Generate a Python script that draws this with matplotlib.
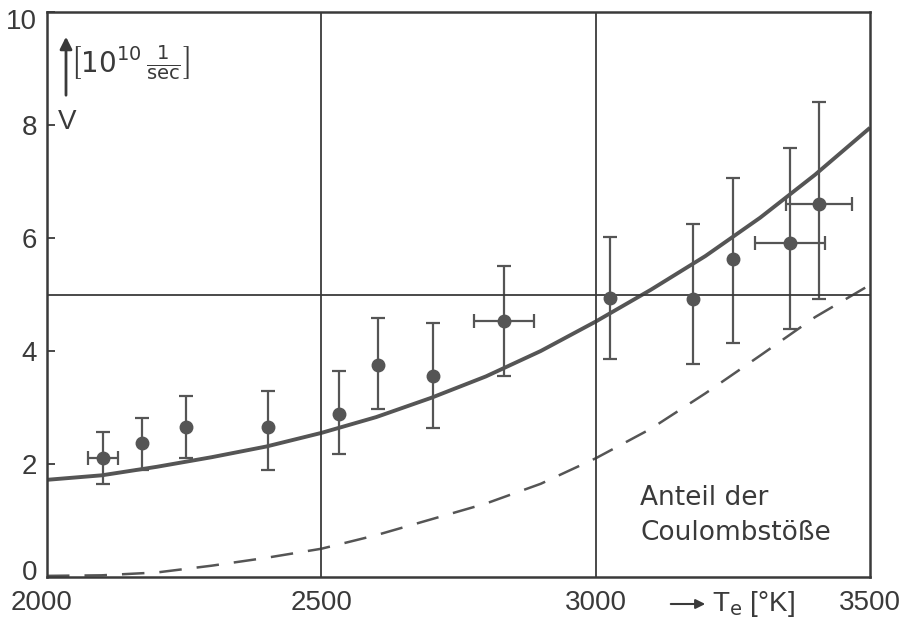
import matplotlib
matplotlib.use('Agg')
import matplotlib.pyplot as plt
from matplotlib.transforms import ScaledTranslation

# measured points (T_e in K, nu in 1e10 1/sec)
T = [2102, 2173, 2253, 2403, 2532, 2603, 2703, 2833, 3026, 3177, 3250, 3354, 3407]
nu = [2.11, 2.38, 2.65, 2.65, 2.88, 3.75, 3.55, 4.53, 4.94, 4.92, 5.63, 5.91, 6.61]
nu_top = [2.56, 2.82, 3.20, 3.29, 3.64, 4.58, 4.49, 5.51, 6.02, 6.25, 7.07, 7.60, 8.40]
nu_bot = [1.65, 1.90, 2.11, 1.90, 2.18, 2.97, 2.63, 3.55, 3.85, 3.77, 4.14, 4.39, 4.92]
T_err = [28, 0, 0, 0, 0, 0, 0, 54, 0, 0, 0, 64, 60]

# theory curves
T_curve = [2000, 2100, 2200, 2300, 2400, 2500, 2600, 2700, 2800, 2900, 3000, 3100, 3200, 3300, 3400, 3500]
nu_total = [1.72, 1.80, 1.95, 2.12, 2.31, 2.55, 2.83, 3.17, 3.55, 4.00, 4.52, 5.08, 5.68, 6.36, 7.12, 7.95]
nu_coulomb = [0.02, 0.03, 0.08, 0.20, 0.34, 0.50, 0.74, 1.02, 1.30, 1.65, 2.10, 2.62, 3.25, 3.92, 4.60, 5.17]

x_ticks = [2000, 2500, 3000, 3500]
y_ticks = [0, 2, 4, 6, 8, 10]

ink = '#3a3a3a'
grey = '#555555'

plt.rcParams['font.family'] = ['Liberation Sans', 'DejaVu Sans']
plt.rcParams['mathtext.fontset'] = 'dejavusans'

fig = plt.figure(figsize=(9.14, 6.25), dpi=100)
ax = fig.add_axes([0.0514, 0.0768, 0.9004, 0.904])

ax.plot(T_curve, nu_total, color=grey, lw=2.8, solid_capstyle='butt')
ax.plot(T_curve, nu_coulomb, color=grey, lw=1.8, dashes=(9, 6))

yerr = [[v - b for v, b in zip(nu, nu_bot)], [t - v for v, t in zip(nu, nu_top)]]
ax.errorbar(T, nu, yerr=yerr, fmt='o', color=grey, ms=9, elinewidth=1.6,
            capsize=5, capthick=1.6)
T_h = [t for t, e in zip(T, T_err) if e > 0]
nu_h = [v for v, e in zip(nu, T_err) if e > 0]
err_h = [e for e in T_err if e > 0]
ax.errorbar(T_h, nu_h, xerr=err_h, fmt='none', ecolor=grey, elinewidth=1.6,
            capsize=5, capthick=1.6)

ax.axvline(2500, color=ink, lw=1.3)
ax.axvline(3000, color=ink, lw=1.3)
ax.axhline(5, color=ink, lw=1.3)

ax.set_xlim(2000, 3500)
ax.set_ylim(0, 10)
ax.set_xticks(x_ticks)
ax.set_yticks(y_ticks)
ax.tick_params(axis='x', length=0, pad=9, labelsize=20, colors=ink)
ax.tick_params(axis='y', direction='in', length=6, width=1.3, pad=7,
               labelsize=20, colors=ink)
for s in ax.spines.values():
    s.set_color(ink)
    s.set_linewidth(1.8)

# nudge the corner labels like in the original
ylabels = ax.get_yticklabels()
ylabels[0].set_transform(ylabels[0].get_transform() + ScaledTranslation(0, 5 / 72, fig.dpi_scale_trans))
ylabels[-1].set_transform(ylabels[-1].get_transform() + ScaledTranslation(0, -5 / 72, fig.dpi_scale_trans))
xlabels = ax.get_xticklabels()
xlabels[0].set_transform(xlabels[0].get_transform() + ScaledTranslation(-4 / 72, 0, fig.dpi_scale_trans))

ax.text(3081, 1.40, 'Anteil der', fontsize=19, color=ink, va='center',
        family='DejaVu Sans')
ax.text(3081, 0.78, 'Coulombstöße', fontsize=19, color=ink, va='center',
        family='DejaVu Sans')

# y axis label
ax.annotate('', xy=(66 / 914, 1 - 34 / 625), xytext=(66 / 914, 1 - 98 / 625),
            xycoords='figure fraction',
            arrowprops=dict(arrowstyle='-|>', lw=2.0, color=ink, mutation_scale=18))
fig.text(130 / 914, 1 - 63 / 625, r'$\left[10^{10}\,\frac{1}{\mathrm{sec}}\right]$',
         fontsize=20, color=ink, ha='center', va='center')
fig.text(67 / 914, 1 - 122 / 625, 'V', fontsize=20, color=ink, ha='center', va='center')

# x axis label
ax.annotate('', xy=(708 / 914, 1 - 604 / 625), xytext=(668 / 914, 1 - 604 / 625),
            xycoords='figure fraction',
            arrowprops=dict(arrowstyle='-|>', lw=1.5, color=ink, mutation_scale=14))
fig.text(712 / 914, 1 - 604 / 625, r'T$_\mathrm{e}$ [°K]', fontsize=20, color=ink,
         ha='left', va='center')

fig.savefig('out.png', dpi=100)
